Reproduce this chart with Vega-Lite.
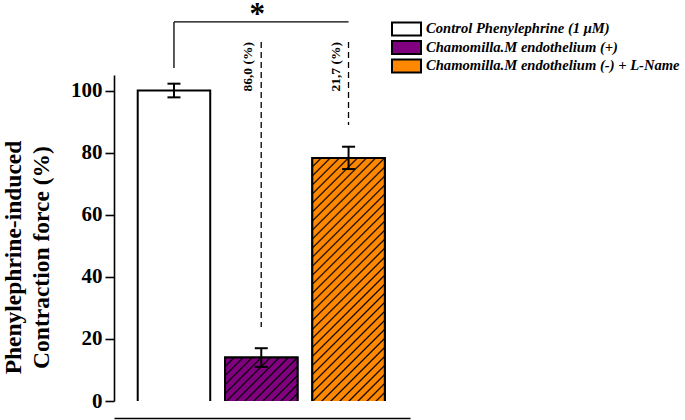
{
  "$schema": "https://vega.github.io/schema/vega-lite/v6.json",
  "width": 296,
  "height": 326,
  "autosize": {"type": "none"},
  "padding": {"left": 114, "top": 75, "right": 275, "bottom": 19},
  "background": "white",
  "config": {
    "view": {"stroke": null},
    "font": "Liberation Serif"
  },
  "datasets": {
    "bars": [
      {"group": "Control Phenylephrine (1 μM)", "value": 100.0, "lo": 97.8, "hi": 102.2},
      {"group": "Chamomilla.M endothelium (+)", "value": 14.0, "lo": 11.0, "hi": 17.0},
      {"group": "Chamomilla.M endothelium (-) + L-Name", "value": 78.3, "lo": 74.7, "hi": 81.9}
    ],
    "notes": [
      {"group": "Chamomilla.M endothelium (+)", "top": 115.6, "bottom": 23.8, "label": "86,0 (%)"},
      {"group": "Chamomilla.M endothelium (-) + L-Name", "top": 115.6, "bottom": 88.9, "label": "21,7 (%)"}
    ],
    "bracket": [
      {"from": "Control Phenylephrine (1 μM)", "to": "Chamomilla.M endothelium (-) + L-Name", "mid": "Chamomilla.M endothelium (+)", "level": 122.1, "foot": 107.25, "star": "*"}
    ]
  },
  "layer": [
    {
      "data": {"name": "bars"},
      "mark": {"type": "bar", "stroke": "black", "strokeWidth": 2, "clip": true},
      "encoding": {
        "x": {
          "field": "group", "type": "nominal", "sort": null,
          "scale": {
            "domain": ["Control Phenylephrine (1 μM)", "Chamomilla.M endothelium (+)", "Chamomilla.M endothelium (-) + L-Name"],
            "paddingInner": 0.1695, "paddingOuter": 0.2801, "align": 0.485
          },
          "axis": {"title": null, "labels": false, "ticks": false, "domain": true, "domainColor": "black", "domainWidth": 1.6, "offset": 17, "grid": false}
        },
        "y": {
          "field": "value", "type": "quantitative",
          "scale": {"domain": [0, 105], "nice": false, "zero": false},
          "axis": {
            "title": ["Phenylephrine-induced", "Contraction force (%)"],
            "titleFont": "Liberation Serif", "titleFontWeight": "bold", "titleFontSize": 23.5, "titleColor": "black",
            "titleAngle": 270, "titleAlign": "center", "titleBaseline": "middle", "titleLineHeight": 28,
            "titleX": -101, "titleY": 182,
            "values": [0, 10, 20, 30, 40, 50, 60, 70, 80, 90, 100],
            "labelExpr": "datum.value % 20 === 0 ? datum.label : ''",
            "labelFont": "Liberation Serif", "labelFontWeight": "bold", "labelFontSize": 21, "labelColor": "black",
            "labelPadding": 3, "labelOverlap": false,
            "tickColor": "black", "tickWidth": 1.6,
            "tickSize": {"condition": {"test": "datum.value % 20 !== 0", "value": 5}, "value": 9},
            "domainColor": "black", "domainWidth": 1.6, "grid": false
          }
        },
        "y2": {"datum": -3},
        "color": {
          "field": "group", "type": "nominal",
          "scale": {
            "domain": ["Control Phenylephrine (1 μM)", "Chamomilla.M endothelium (+)", "Chamomilla.M endothelium (-) + L-Name"],
            "range": ["#ffffff", "#800080", "#ff8800"]
          },
          "legend": {
            "title": null, "orient": "none", "legendX": 277, "legendY": -54, "padding": 0,
            "symbolType": "M-1,-0.45L1,-0.45L1,0.45L-1,0.45Z", "symbolSize": 841,
            "symbolStrokeColor": "black", "symbolStrokeWidth": 2, "symbolOpacity": 1,
            "labelFont": "Liberation Serif", "labelFontStyle": "italic", "labelFontWeight": "bold",
            "labelFontSize": 14.6, "labelColor": "black", "labelLimit": 400, "labelOffset": 4,
            "labelBaseline": "middle", "clipHeight": 16, "rowPadding": 2.5
          }
        }
      }
    },
    {
      "data": {"name": "bars"},
      "transform": [{"filter": "datum.group === 'Chamomilla.M endothelium (+)'"}],
      "mark": {
        "type": "bar", "stroke": "black", "strokeWidth": 2, "clip": true,
        "fill": {
          "gradient": "linear", "x1": 0, "y1": 0, "x2": 1.1285, "y2": 0.8241,
          "stops": [
            {"offset": 0, "color": "#800080"},
            {"offset": 0.0585, "color": "#800080"}, {"offset": 0.0721, "color": "#000000"}, {"offset": 0.0857, "color": "#800080"},
            {"offset": 0.1307, "color": "#800080"}, {"offset": 0.1443, "color": "#000000"}, {"offset": 0.1579, "color": "#800080"},
            {"offset": 0.2028, "color": "#800080"}, {"offset": 0.2164, "color": "#000000"}, {"offset": 0.2300, "color": "#800080"},
            {"offset": 0.2750, "color": "#800080"}, {"offset": 0.2886, "color": "#000000"}, {"offset": 0.3022, "color": "#800080"},
            {"offset": 0.3471, "color": "#800080"}, {"offset": 0.3607, "color": "#000000"}, {"offset": 0.3743, "color": "#800080"},
            {"offset": 0.4192, "color": "#800080"}, {"offset": 0.4328, "color": "#000000"}, {"offset": 0.4464, "color": "#800080"},
            {"offset": 0.4914, "color": "#800080"}, {"offset": 0.5050, "color": "#000000"}, {"offset": 0.5186, "color": "#800080"},
            {"offset": 0.5635, "color": "#800080"}, {"offset": 0.5771, "color": "#000000"}, {"offset": 0.5907, "color": "#800080"},
            {"offset": 0.6357, "color": "#800080"}, {"offset": 0.6493, "color": "#000000"}, {"offset": 0.6629, "color": "#800080"},
            {"offset": 0.7078, "color": "#800080"}, {"offset": 0.7214, "color": "#000000"}, {"offset": 0.7350, "color": "#800080"},
            {"offset": 0.7799, "color": "#800080"}, {"offset": 0.7935, "color": "#000000"}, {"offset": 0.8071, "color": "#800080"},
            {"offset": 0.8521, "color": "#800080"}, {"offset": 0.8657, "color": "#000000"}, {"offset": 0.8793, "color": "#800080"},
            {"offset": 0.9242, "color": "#800080"}, {"offset": 0.9378, "color": "#000000"}, {"offset": 0.9514, "color": "#800080"},
            {"offset": 1, "color": "#800080"}
          ]
        }
      },
      "encoding": {
        "x": {"field": "group", "type": "nominal", "sort": null},
        "y": {"field": "value", "type": "quantitative"},
        "y2": {"datum": -3}
      }
    },
    {
      "data": {"name": "bars"},
      "transform": [{"filter": "datum.group === 'Chamomilla.M endothelium (-) + L-Name'"}],
      "mark": {
        "type": "bar", "stroke": "black", "strokeWidth": 2, "clip": true,
        "fill": {
          "gradient": "linear", "x1": 0, "y1": 0, "x2": 0.3404, "y2": 1.1889,
          "stops": [
            {"offset": 0, "color": "#ff8800"},
            {"offset": 0.0226, "color": "#ff8800"}, {"offset": 0.0278, "color": "#000000"}, {"offset": 0.0330, "color": "#ff8800"},
            {"offset": 0.0504, "color": "#ff8800"}, {"offset": 0.0556, "color": "#000000"}, {"offset": 0.0608, "color": "#ff8800"},
            {"offset": 0.0782, "color": "#ff8800"}, {"offset": 0.0834, "color": "#000000"}, {"offset": 0.0886, "color": "#ff8800"},
            {"offset": 0.1060, "color": "#ff8800"}, {"offset": 0.1112, "color": "#000000"}, {"offset": 0.1164, "color": "#ff8800"},
            {"offset": 0.1338, "color": "#ff8800"}, {"offset": 0.1390, "color": "#000000"}, {"offset": 0.1442, "color": "#ff8800"},
            {"offset": 0.1615, "color": "#ff8800"}, {"offset": 0.1667, "color": "#000000"}, {"offset": 0.1719, "color": "#ff8800"},
            {"offset": 0.1893, "color": "#ff8800"}, {"offset": 0.1945, "color": "#000000"}, {"offset": 0.1997, "color": "#ff8800"},
            {"offset": 0.2171, "color": "#ff8800"}, {"offset": 0.2223, "color": "#000000"}, {"offset": 0.2275, "color": "#ff8800"},
            {"offset": 0.2449, "color": "#ff8800"}, {"offset": 0.2501, "color": "#000000"}, {"offset": 0.2553, "color": "#ff8800"},
            {"offset": 0.2727, "color": "#ff8800"}, {"offset": 0.2779, "color": "#000000"}, {"offset": 0.2831, "color": "#ff8800"},
            {"offset": 0.3005, "color": "#ff8800"}, {"offset": 0.3057, "color": "#000000"}, {"offset": 0.3109, "color": "#ff8800"},
            {"offset": 0.3283, "color": "#ff8800"}, {"offset": 0.3335, "color": "#000000"}, {"offset": 0.3387, "color": "#ff8800"},
            {"offset": 0.3561, "color": "#ff8800"}, {"offset": 0.3613, "color": "#000000"}, {"offset": 0.3665, "color": "#ff8800"},
            {"offset": 0.3839, "color": "#ff8800"}, {"offset": 0.3891, "color": "#000000"}, {"offset": 0.3943, "color": "#ff8800"},
            {"offset": 0.4117, "color": "#ff8800"}, {"offset": 0.4169, "color": "#000000"}, {"offset": 0.4221, "color": "#ff8800"},
            {"offset": 0.4394, "color": "#ff8800"}, {"offset": 0.4446, "color": "#000000"}, {"offset": 0.4498, "color": "#ff8800"},
            {"offset": 0.4672, "color": "#ff8800"}, {"offset": 0.4724, "color": "#000000"}, {"offset": 0.4776, "color": "#ff8800"},
            {"offset": 0.4950, "color": "#ff8800"}, {"offset": 0.5002, "color": "#000000"}, {"offset": 0.5054, "color": "#ff8800"},
            {"offset": 0.5228, "color": "#ff8800"}, {"offset": 0.5280, "color": "#000000"}, {"offset": 0.5332, "color": "#ff8800"},
            {"offset": 0.5506, "color": "#ff8800"}, {"offset": 0.5558, "color": "#000000"}, {"offset": 0.5610, "color": "#ff8800"},
            {"offset": 0.5784, "color": "#ff8800"}, {"offset": 0.5836, "color": "#000000"}, {"offset": 0.5888, "color": "#ff8800"},
            {"offset": 0.6062, "color": "#ff8800"}, {"offset": 0.6114, "color": "#000000"}, {"offset": 0.6166, "color": "#ff8800"},
            {"offset": 0.6340, "color": "#ff8800"}, {"offset": 0.6392, "color": "#000000"}, {"offset": 0.6444, "color": "#ff8800"},
            {"offset": 0.6618, "color": "#ff8800"}, {"offset": 0.6670, "color": "#000000"}, {"offset": 0.6722, "color": "#ff8800"},
            {"offset": 0.6896, "color": "#ff8800"}, {"offset": 0.6948, "color": "#000000"}, {"offset": 0.7000, "color": "#ff8800"},
            {"offset": 0.7173, "color": "#ff8800"}, {"offset": 0.7225, "color": "#000000"}, {"offset": 0.7277, "color": "#ff8800"},
            {"offset": 0.7451, "color": "#ff8800"}, {"offset": 0.7503, "color": "#000000"}, {"offset": 0.7555, "color": "#ff8800"},
            {"offset": 0.7729, "color": "#ff8800"}, {"offset": 0.7781, "color": "#000000"}, {"offset": 0.7833, "color": "#ff8800"},
            {"offset": 0.8007, "color": "#ff8800"}, {"offset": 0.8059, "color": "#000000"}, {"offset": 0.8111, "color": "#ff8800"},
            {"offset": 0.8285, "color": "#ff8800"}, {"offset": 0.8337, "color": "#000000"}, {"offset": 0.8389, "color": "#ff8800"},
            {"offset": 0.8563, "color": "#ff8800"}, {"offset": 0.8615, "color": "#000000"}, {"offset": 0.8667, "color": "#ff8800"},
            {"offset": 0.8841, "color": "#ff8800"}, {"offset": 0.8893, "color": "#000000"}, {"offset": 0.8945, "color": "#ff8800"},
            {"offset": 0.9119, "color": "#ff8800"}, {"offset": 0.9171, "color": "#000000"}, {"offset": 0.9223, "color": "#ff8800"},
            {"offset": 0.9397, "color": "#ff8800"}, {"offset": 0.9449, "color": "#000000"}, {"offset": 0.9501, "color": "#ff8800"},
            {"offset": 0.9675, "color": "#ff8800"}, {"offset": 0.9727, "color": "#000000"}, {"offset": 0.9779, "color": "#ff8800"},
            {"offset": 1, "color": "#ff8800"}
          ]
        }
      },
      "encoding": {
        "x": {"field": "group", "type": "nominal", "sort": null},
        "y": {"field": "value", "type": "quantitative"},
        "y2": {"datum": -3}
      }
    },
    {
      "data": {"name": "bars"},
      "mark": {"type": "rule", "color": "black", "strokeWidth": 2},
      "encoding": {
        "x": {"field": "group", "type": "nominal", "sort": null},
        "y": {"field": "lo", "type": "quantitative"},
        "y2": {"field": "hi"}
      }
    },
    {
      "data": {"name": "bars"},
      "mark": {"type": "tick", "color": "black", "size": 13, "thickness": 2, "opacity": 1},
      "encoding": {
        "x": {"field": "group", "type": "nominal", "sort": null},
        "y": {"field": "lo", "type": "quantitative"}
      }
    },
    {
      "data": {"name": "bars"},
      "mark": {"type": "tick", "color": "black", "size": 13, "thickness": 2, "opacity": 1},
      "encoding": {
        "x": {"field": "group", "type": "nominal", "sort": null},
        "y": {"field": "hi", "type": "quantitative"}
      }
    },
    {
      "data": {"name": "notes"},
      "mark": {"type": "rule", "color": "black", "strokeWidth": 1.3, "strokeDash": [6, 4]},
      "encoding": {
        "x": {"field": "group", "type": "nominal", "sort": null},
        "xOffset": {"condition": {"test": "datum.group === 'Chamomilla.M endothelium (+)'", "value": 32.2}, "value": 36.2},
        "y": {"field": "top", "type": "quantitative"},
        "y2": {"field": "bottom"}
      }
    },
    {
      "data": {"name": "notes"},
      "mark": {"type": "text", "angle": 270, "align": "right", "baseline": "bottom", "font": "Liberation Serif", "fontWeight": "bold", "fontSize": 13.5, "color": "black"},
      "encoding": {
        "x": {"field": "group", "type": "nominal", "sort": null},
        "xOffset": {"condition": {"test": "datum.group === 'Chamomilla.M endothelium (+)'", "value": 24.2}, "value": 30.2},
        "y": {"field": "top", "type": "quantitative"},
        "text": {"field": "label"}
      }
    },
    {
      "data": {"name": "bracket"},
      "mark": {"type": "rule", "color": "black", "strokeWidth": 1.3},
      "encoding": {
        "x": {"field": "from", "type": "nominal", "sort": null},
        "x2": {"field": "to"},
        "y": {"field": "level", "type": "quantitative"}
      }
    },
    {
      "data": {"name": "bracket"},
      "mark": {"type": "rule", "color": "black", "strokeWidth": 1.3},
      "encoding": {
        "x": {"field": "from", "type": "nominal", "sort": null},
        "y": {"field": "level", "type": "quantitative"},
        "y2": {"field": "foot"}
      }
    },
    {
      "data": {"name": "bracket"},
      "mark": {"type": "text", "font": "Liberation Serif", "fontWeight": "bold", "fontSize": 31, "baseline": "alphabetic", "align": "center", "color": "black", "dy": 2},
      "encoding": {
        "x": {"field": "mid", "type": "nominal", "sort": null},
        "xOffset": {"value": 32.2},
        "y": {"field": "level", "type": "quantitative"},
        "text": {"field": "star"}
      }
    }
  ]
}
